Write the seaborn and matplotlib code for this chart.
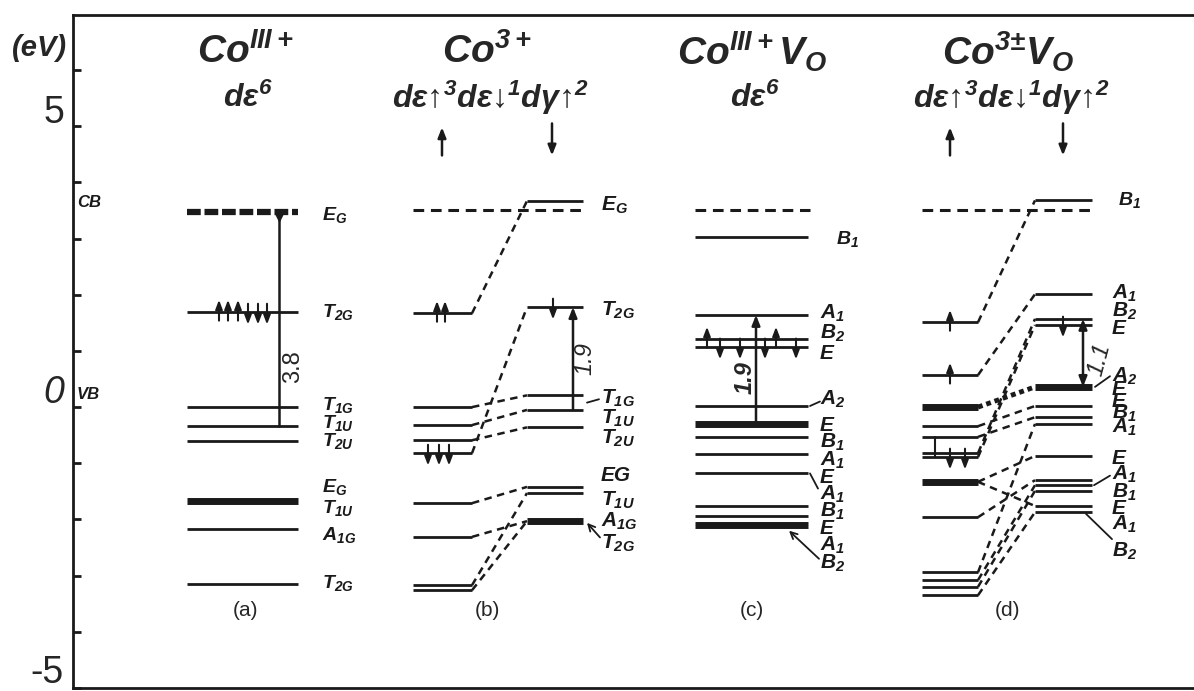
import matplotlib
matplotlib.use("Agg")
import matplotlib.pyplot as plt
import seaborn as sns

# Energies (eV)
A_E = [3.47, 1.69, 0.0, -0.34, -0.6, -1.67, -2.17, -3.15]
A_NAMES = ["$E_G$", "$T_{2G}$", "$T_{1G}$", "$T_{1U}$", "$T_{2U}$",
           "$E_G$", "$T_{1U}$", "$A_{1G}$", "$T_{2G}$"]
A_NAME_E = [3.42, 1.70, 0.03, -0.28, -0.60, -1.42, -1.80, -2.27, -3.13]
A_GAP = 3.8

B_CB = 3.5
B_LEFT_E = [1.67, 0.0, -0.32, -0.59, -0.82, -1.71, -2.31, -3.17, -3.26]
B_RIGHT_E = [3.67, 1.78, 0.21, -0.05, -0.36, -1.42, -1.53, -2.03]
B_LINKS = [(0, 0), (1, 2), (2, 3), (3, 4), (4, 1), (5, 5), (6, 7), (7, 6), (8, 7)]
B_NAMES = ["$E_G$", "$T_{2G}$", "$T_{1G}$", "$T_{1U}$", "$T_{2U}$",
           "EG", "$T_{1U}$", "$A_{1G}$", "$T_{2G}$"]
B_NAME_E = [3.6, 1.73, 0.16, -0.18, -0.55, -1.21, -1.66, -2.05, -2.42]
B_GAP = 1.9

C_CB = 3.5
C_E = [3.03, 1.64, 1.21, 1.07, 0.02, -0.3, -0.53, -0.84, -1.18, -1.76, -1.94, -2.1]
C_NAMES = ["$B_1$", "$A_1$", "$B_2$", "E", "$A_2$", "E", "$B_1$", "$A_1$",
           "E", "$A_1$", "$B_1$", "E", "$A_1$", "$B_2$"]
C_NAME_E = [3.0, 1.69, 1.31, 0.96, 0.14, -0.28, -0.5, -0.82, -1.17,
            -1.53, -1.78, -2.13, -2.49, -2.85]
C_GAP = 1.9

D_CB = 3.5
D_LEFT_E = [1.51, 0.57, 0.0, -0.34, -0.53, -0.82, -0.89, -1.33, -1.96,
            -2.94, -3.08, -3.2, -3.35]
D_RIGHT_E = [3.68, 2.01, 1.57, 1.46, 0.36, 0.02, -0.18, -0.3, -0.87,
             -1.3, -1.39, -1.49, -1.76, -1.87]
D_LINKS = [(0, 0), (1, 1), (3, 5), (4, 6), (5, 2), (6, 3), (7, 8),
           (7, 12), (8, 9), (9, 7), (10, 10), (11, 11), (12, 13)]
D_NAMES = ["$B_1$", "$A_1$", "$B_2$", "E", "$A_2$", "E", "E", "$B_1$", "$A_1$",
           "E", "$A_1$", "$B_1$", "E", "$A_1$", "$B_2$"]
D_NAME_E = [3.68, 2.05, 1.67, 1.4, 0.6, 0.36, 0.16, -0.11, -0.41, -0.89,
            -1.21, -1.6, -1.78, -2.14, -2.57]
D_GAP = 1.1

TITLES = ["Co$^{III+}$", "Co$^{3+}$", "Co$^{III+}$V$_O$", "Co$^{3±}$V$_O$"]
CONFIGS = ["dε$^6$", "dε↑$^3$dε↓$^1$dγ↑$^2$", "dε$^6$", "dε↑$^3$dε↓$^1$dγ↑$^2$"]
PANELS = ["(a)", "(b)", "(c)", "(d)"]

PX_PER_EV = 673 / 11.98

sns.set_theme(style="white")
plt.rcParams["font.family"] = ["Liberation Sans", "DejaVu Sans"]
plt.rcParams["mathtext.default"] = "regular"

fig = plt.figure(figsize=(11.94, 6.91), dpi=100)
ax = fig.add_axes([73 / 1194, 3 / 691, 1 - 73 / 1194, 673 / 691])
ax.set_xlim(73, 1194)
ax.set_ylim(-5, 6.98)
sns.despine(ax=ax, top=False, right=True)
for side in ["left", "top", "bottom"]:
    ax.spines[side].set_color("k")
    ax.spines[side].set_linewidth(2)
ax.set_xticks([])
ax.set_yticks(range(-5, 7))
ax.tick_params(axis="y", direction="in", length=6, width=2, color="k",
               left=True, labelleft=False)

LBL = dict(style="italic", weight="bold", color="k", va="center", ha="left")


def levels(x0, x1, es, thick=(), lw=2.0):
    for i, e in enumerate(es):
        ax.hlines(e, x0, x1, color="k", lw=5 if i in thick else lw)


def cb_line(x0, x1, e, lw=2.2, dashes=(3.5, 2.2)):
    ax.plot([x0, x1], [e, e], color="k", lw=lw, dashes=dashes,
            solid_capstyle="butt")


def links(xl, xr, left, right, pairs):
    for i, j in pairs:
        ax.plot([xl, xr], [left[i], right[j]], color="k", lw=1.8,
                dashes=(3, 2.2))


def spin(x, e, up=True):
    tip, tail = (e + 0.22, e - 0.15) if up else (e - 0.22, e + 0.15)
    ax.annotate("", xy=(x, tip), xytext=(x, tail),
                arrowprops=dict(arrowstyle="-|>,head_length=0.45,head_width=0.17",
                                lw=1.5, color="k", shrinkA=0, shrinkB=0))


def gap(x, lo, hi, style="-|>"):
    ax.annotate("", xy=(x, hi), xytext=(x, lo),
                arrowprops=dict(arrowstyle=style + ",head_length=0.5,head_width=0.2",
                                lw=1.8, color="k", shrinkA=0, shrinkB=0))


def leader(x0, e0, x1, e1, style="-"):
    ax.annotate("", xy=(x1, e1), xytext=(x0, e0),
                arrowprops=dict(arrowstyle=style, lw=1.3, color="k",
                                shrinkA=0, shrinkB=0))


def names(x, labels, es, size, thr=0.41):
    # close labels are stacked in one multi-line text
    groups, cur = [], [0]
    for i in range(1, len(es)):
        if es[i - 1] - es[i] < thr:
            cur.append(i)
        else:
            groups.append(cur)
            cur = [i]
    groups.append(cur)
    em = size * 100 / 72
    for g in groups:
        txt = "\n".join(labels[i] for i in g)
        ls = 1.0
        if len(g) > 1:
            step = (es[g[0]] - es[g[-1]]) / (len(g) - 1) * PX_PER_EV
            ls = max(0.4, (step - 0.3 * em) / (0.72 * em))
        ax.text(x, (es[g[0]] + es[g[-1]]) / 2, txt, fontsize=size,
                linespacing=ls, **LBL)


# axis annotations
for v, off in [(5, 0.23), (0, 0.25), (-5, 0.27)]:
    ax.text(64, v + off, f"{v}", fontsize=27, ha="right", va="center",
            style="italic" if v == 0 else "normal", clip_on=False)
ax.text(12, 6.4, "(eV)", fontsize=21, style="italic", weight="bold",
        va="center", ha="left", clip_on=False)
ax.text(77, 3.65, "CB", fontsize=12, **LBL)
ax.text(77, 0.22, "VB", fontsize=12, **LBL)

# titles
for xc, t, c, p in zip([245, 487, 752, 1008], TITLES, CONFIGS, PANELS):
    ax.text(xc, 6.33, t, fontsize=28, style="italic", weight="bold",
            ha="center", va="center")
    ax.text(xc + 3, 5.5, c, fontsize=23, style="italic", weight="bold",
            ha="center", va="center")
    ax.text(xc, -3.62, p, fontsize=15, ha="center", va="center")
for xu, xd in [(442, 552), (950, 1063)]:
    gap(xu, 4.48, 4.98)
    gap(xd, 5.05, 4.48)

# (a)
levels(187, 298, A_E[1:], thick=(4,))
cb_line(187, 298, A_E[0], lw=4.5, dashes=(2.2, 0.6))
for k, x in enumerate([219, 228, 238, 248, 258, 267]):
    spin(x, A_E[1], up=k < 3)
ax.plot([279, 279], [A_E[3], A_E[0]], color="k", lw=1.8)
ax.plot([279], [A_E[0] - 0.08], marker="v", color="k", ms=6)
ax.text(293, 0.72, f"{A_GAP}", rotation=90, fontsize=17, ha="center", va="center")
names(322, A_NAMES, A_NAME_E, 14)

# (b)
cb_line(413, 583, B_CB)
levels(413, 472, B_LEFT_E)
levels(527, 583, B_RIGHT_E, thick=(7,))
links(472, 527, B_LEFT_E, B_RIGHT_E, B_LINKS)
spin(437, B_LEFT_E[0]); spin(445, B_LEFT_E[0])
for x in [428, 439, 449]:
    spin(x, B_LEFT_E[4], up=False)
spin(553, B_RIGHT_E[1], up=False)
gap(573, B_RIGHT_E[3], B_RIGHT_E[1])
ax.text(585, 0.87, f"{B_GAP}", rotation=90, fontsize=17, style="italic",
        ha="center", va="center")
names(601, B_NAMES, B_NAME_E, 15)
leader(599, 0.14, 587, 0.08)
leader(600, -2.32, 587, -2.06, "->")

# (c)
cb_line(695, 810, C_CB)
levels(695, 808, C_E, thick=(5, 11))
for x in [707, 776]:
    spin(x, C_E[2])
for x in [720, 740, 765, 796]:
    spin(x, C_E[3], up=False)
gap(756, C_E[5], C_E[1])
ax.text(745, 0.52, f"{C_GAP}", rotation=90, fontsize=17, style="italic",
        weight="bold", ha="center", va="center")
names(836, C_NAMES[:1], C_NAME_E[:1], 14)
names(820, C_NAMES[1:], C_NAME_E[1:], 15)
leader(820, 0.1, 810, C_E[4])
leader(818, -1.45, 810, C_E[8])
leader(819, -2.7, 789, -2.2, "->")

# (d)
cb_line(922, 1092, D_CB)
levels(922, 978, D_LEFT_E, thick=(2, 7))
levels(1035, 1092, D_RIGHT_E, thick=(4,))
links(978, 1035, D_LEFT_E, D_RIGHT_E, D_LINKS)
ax.plot([978, 1035], [D_LEFT_E[2], D_RIGHT_E[4]], color="k", lw=3.5,
        dashes=(1, 0.8))
spin(950, D_LEFT_E[0]); spin(950, D_LEFT_E[1])
ax.plot([935, 935], [D_LEFT_E[4], D_LEFT_E[6]], color="k", lw=1.5)
for x in [950, 965]:
    spin(x, D_LEFT_E[6], up=False)
spin(1063, D_RIGHT_E[3], up=False)
gap(1083, D_RIGHT_E[4], D_RIGHT_E[2], "<|-|>")
ax.text(1099, 0.84, f"{D_GAP}", rotation=75, fontsize=17, style="italic",
        ha="center", va="center")
names(1118, D_NAMES[:1], D_NAME_E[:1], 14)
names(1112, D_NAMES[1:], D_NAME_E[1:], 15)
leader(1110, 0.55, 1095, D_RIGHT_E[4])
leader(1110, -1.22, 1094, D_RIGHT_E[10])
leader(1112, -2.35, 1086, -1.9, "-")

fig.savefig("out.png", dpi=100)
